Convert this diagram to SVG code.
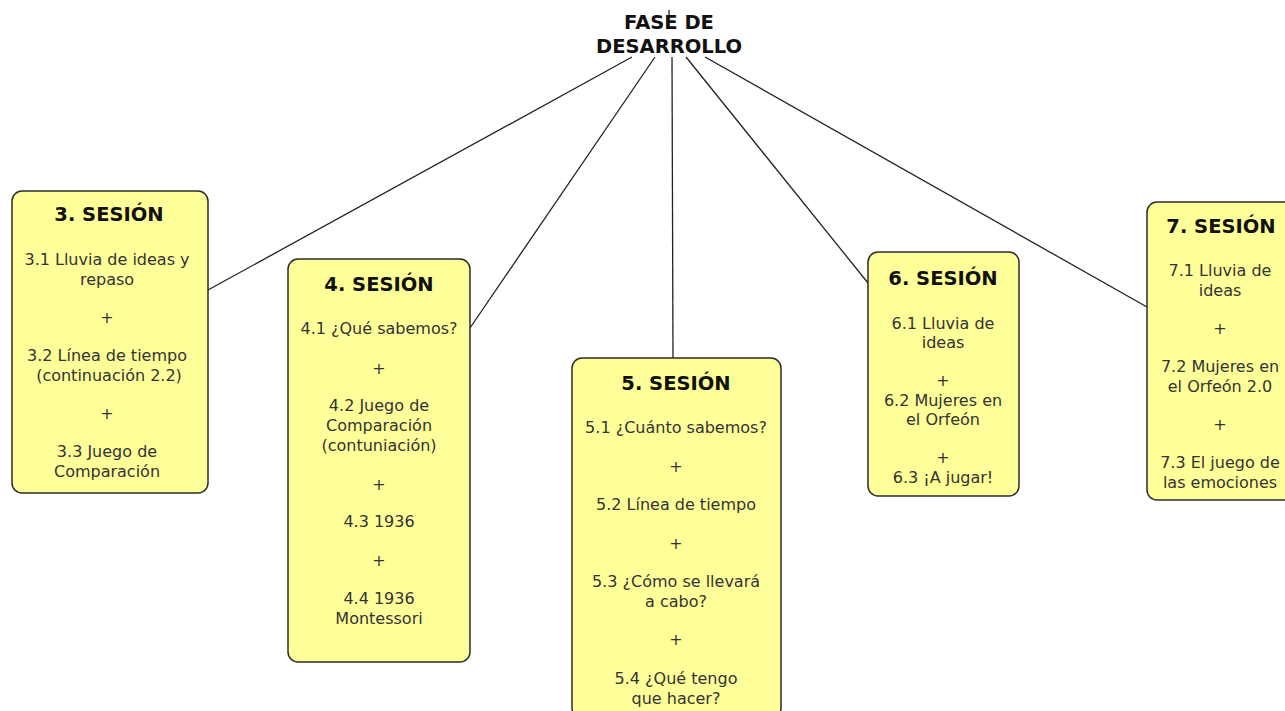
<svg xmlns="http://www.w3.org/2000/svg" width="1285" height="711" viewBox="0 0 1285 711">
<style>
.bg{fill:#ffffff}
.node rect{fill:#ffff99;stroke:#2b2b2b;stroke-width:1.5}
.t{font-family:"DejaVu Sans",Verdana,sans-serif;font-size:16px;fill:#333333;text-anchor:middle}
.h{font-family:"DejaVu Sans",Verdana,sans-serif;font-size:19.5px;font-weight:bold;fill:#111111;text-anchor:middle}
.conn line{stroke:#222222;stroke-width:1.3}
</style>
<rect class="bg" x="0" y="0" width="1285" height="711"/>
<g id="connectors" class="conn">
<line x1="632" y1="57" x2="208" y2="290"/>
<line x1="655" y1="57" x2="470" y2="328"/>
<line x1="672" y1="57" x2="673" y2="358"/>
<line x1="686" y1="57" x2="868" y2="283"/>
<line x1="705" y1="57" x2="1147" y2="307"/>
<line x1="669" y1="10" x2="669" y2="16"/>
</g>
<g id="root">
<text class="h" x="669" y="29">FASE DE</text>
<text class="h" x="669" y="53">DESARROLLO</text>
</g>
<g id="s3" class="node">
<rect x="12" y="191" width="196" height="302" rx="10"/>
<text class="h" x="109" y="221">3. SESIÓN</text>
<text class="t" x="107" y="265">3.1 Lluvia de ideas y</text>
<text class="t" x="107" y="285">repaso</text>
<text class="t" x="107" y="323">+</text>
<text class="t" x="107" y="361">3.2 Línea de tiempo</text>
<text class="t" x="109" y="381">(continuación 2.2)</text>
<text class="t" x="107" y="419">+</text>
<text class="t" x="107" y="457">3.3 Juego de</text>
<text class="t" x="107" y="477">Comparación</text>
</g>
<g id="s4" class="node">
<rect x="288" y="259" width="182" height="403" rx="10"/>
<text class="h" x="379" y="291">4. SESIÓN</text>
<text class="t" x="379" y="334">4.1 ¿Qué sabemos?</text>
<text class="t" x="379" y="374">+</text>
<text class="t" x="379" y="411">4.2 Juego de</text>
<text class="t" x="379" y="431">Comparación</text>
<text class="t" x="379" y="451">(contuniación)</text>
<text class="t" x="379" y="490">+</text>
<text class="t" x="379" y="527">4.3 1936</text>
<text class="t" x="379" y="566">+</text>
<text class="t" x="379" y="604">4.4 1936</text>
<text class="t" x="379" y="624">Montessori</text>
</g>
<g id="s5" class="node">
<rect x="572" y="358" width="209" height="360" rx="10"/>
<text class="h" x="676" y="390">5. SESIÓN</text>
<text class="t" x="676" y="433">5.1 ¿Cuánto sabemos?</text>
<text class="t" x="676" y="472">+</text>
<text class="t" x="676" y="510">5.2 Línea de tiempo</text>
<text class="t" x="676" y="549">+</text>
<text class="t" x="676" y="587">5.3 ¿Cómo se llevará</text>
<text class="t" x="676" y="607">a cabo?</text>
<text class="t" x="676" y="645">+</text>
<text class="t" x="676" y="684">5.4 ¿Qué tengo</text>
<text class="t" x="676" y="704">que hacer?</text>
</g>
<g id="s6" class="node">
<rect x="868" y="252" width="151" height="244" rx="10"/>
<text class="h" x="943" y="285">6. SESIÓN</text>
<text class="t" x="943" y="329">6.1 Lluvia de</text>
<text class="t" x="943" y="348">ideas</text>
<text class="t" x="943" y="386">+</text>
<text class="t" x="943" y="406">6.2 Mujeres en</text>
<text class="t" x="943" y="425">el Orfeón</text>
<text class="t" x="943" y="463">+</text>
<text class="t" x="943" y="483">6.3 ¡A jugar!</text>
</g>
<g id="s7" class="node">
<rect x="1147" y="202" width="150" height="298" rx="10"/>
<text class="h" x="1221" y="233">7. SESIÓN</text>
<text class="t" x="1220" y="276">7.1 Lluvia de</text>
<text class="t" x="1220" y="296">ideas</text>
<text class="t" x="1220" y="334">+</text>
<text class="t" x="1220" y="372">7.2 Mujeres en</text>
<text class="t" x="1220" y="392">el Orfeón 2.0</text>
<text class="t" x="1220" y="430">+</text>
<text class="t" x="1220" y="468">7.3 El juego de</text>
<text class="t" x="1220" y="488">las emociones</text>
</g>
</svg>
